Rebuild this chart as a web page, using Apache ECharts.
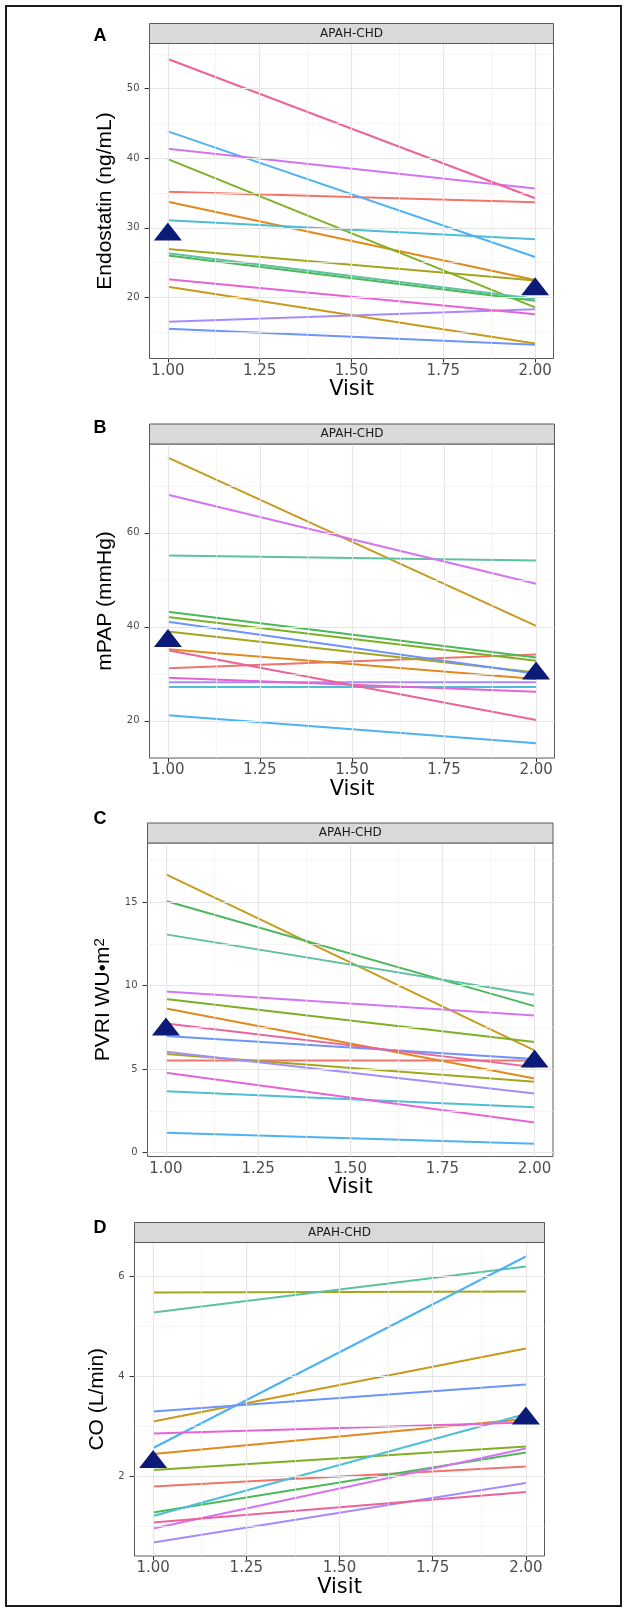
<!DOCTYPE html>
<html><head><meta charset="utf-8">
<script src="https://cdn.jsdelivr.net/npm/echarts@6/dist/echarts.min.js"></script>
<style>html,body{margin:0;padding:0;background:#fff}#c{width:624px;height:1610px}</style>
</head><body><div id="c"></div>
<script>
// ---- data ----
const visits = [1, 2];
const patientColors = ['#F0746C','#E08A1E','#C79A1C','#A3A61C','#7DB023','#4CB85A','#5EC1A0',
                       '#4DBED3','#4DB2F2','#6C94FA','#A68BFA','#D474F3','#E663D3','#EB6399'];
const endostatinV1 = [35.17, 33.73, 21.53, 26.96, 39.87, 26.0, 26.33, 31.09, 43.86, 15.48, 16.49, 41.36, 22.59, 54.27];
const endostatinV2 = [33.68, 22.5, 13.37, 22.4, 18.55, 19.5, 19.8, 28.35, 25.8, 13.18, 18.27, 35.65, 17.55, 34.25];
const mpapV1 = [31.2, 35.25, 76.0, 39.0, 42.1, 43.2, 55.2, 27.2, 21.2, 41.1, 28.2, 68.1, 29.15, 35.0];
const mpapV2 = [34.1, 28.9, 40.2, 30.3, 32.8, 33.5, 54.1, 27.2, 15.25, 30.0, 28.2, 49.15, 26.2, 20.2];
const pvriV1 = [5.52, 8.64, 16.68, 5.9, 9.2, 15.08, 13.08, 3.68, 1.18, 6.98, 6.04, 9.66, 4.78, 7.74];
const pvriV2 = [5.52, 4.44, 6.12, 4.24, 6.62, 8.78, 9.46, 2.72, 0.52, 5.6, 3.54, 8.22, 1.8, 5.12];
const coV1 = [1.79, 2.44, 3.09, 5.67, 2.12, 1.27, 5.27, 1.2, 2.56, 3.29, 0.67, 0.95, 2.85, 1.07];
const coV2 = [2.19, 3.14, 4.55, 5.69, 2.59, 2.47, 6.19, 3.24, 6.39, 3.83, 1.86, 2.55, 3.07, 1.68];
const endostatinMedian = [29.05, 21.15];
const mpapMedian = [37.0, 30.1];
const pvriMedian = [7.37, 5.45];
const coMedian = [2.28, 3.15];
const xTicks = [1, 1.25, 1.5, 1.75, 2];
const xMinor = [1.125, 1.375, 1.625, 1.875];
const endostatinTicks = [20, 30, 40, 50];
const endostatinMinor = [15, 25, 35, 45, 55];
const mpapTicks = [20, 40, 60];
const mpapMinor = [30, 50, 70];
const pvriTicks = [0, 5, 10, 15];
const pvriMinor = [2.5, 7.5, 12.5, 17.5];
const coTicks = [2, 4, 6];
const coMinor = [1, 3, 5];
const facetLabel = 'APAH-CHD';
const panelLetters = ['A', 'B', 'C', 'D'];
const xTitle = 'Visit';

// ---- layout ----
const panels = [
  {grid:{left:149.5, top:43.5, width:404, height:315}, ymin:11.2, ymax:56.5, v1:endostatinV1, v2:endostatinV2, med:endostatinMedian, ticks:endostatinTicks, minor:endostatinMinor, name:'Endostatin (ng/mL)', gap:31, letterY:36},
  {grid:{left:149.5, top:444, width:405, height:314}, ymin:12.1, ymax:78.9, v1:mpapV1, v2:mpapV2, med:mpapMedian, ticks:mpapTicks, minor:mpapMinor, name:'mPAP (mmHg)', gap:30, letterY:428},
  {grid:{left:147.5, top:843, width:405.5, height:313.5}, ymin:-0.24, ymax:18.56, v1:pvriV1, v2:pvriV2, med:pvriMedian, ticks:pvriTicks, minor:pvriMinor, name:'{t|PVRI WU•m}{s|2}', gap:31, letterY:819},
  {grid:{left:134.5, top:1242.5, width:410, height:313.5}, ymin:0.4, ymax:6.67, v1:coV1, v2:coV2, med:coMedian, ticks:coTicks, minor:coMinor, name:'CO (L/min)', gap:24, letterY:1228}
];

const majorStyle = {color:'#e6e6e6', width:1.2, type:'solid'};
const minorStyle = {color:'#f1f1f1', width:0.7, type:'solid'};

const grids = [], xAxes = [], yAxes = [], series = [], graphics = [];
panels.forEach((p, pi) => {
  grids.push(Object.assign({show:true, borderColor:'#5a5a5a', borderWidth:1, backgroundColor:'#fff', containLabel:false}, p.grid));
  xAxes.push({
    type:'value', gridIndex:pi, min:0.95, max:2.05,
    axisLine:{show:false},
    axisTick:{show:true, length:4, lineStyle:{color:'#333', width:1}, customValues:xTicks},
    axisLabel:{customValues:xTicks, formatter:v => v.toFixed(2), fontSize:15, fontFamily:'DejaVu Sans', color:'#4d4d4d', margin:5},
    splitLine:{show:false},
    name:xTitle, nameLocation:'middle', nameGap:20,
    nameTextStyle:{fontSize:21, fontFamily:'DejaVu Sans', color:'#000'}
  });
  yAxes.push({
    type:'value', gridIndex:pi, min:p.ymin, max:p.ymax,
    axisLine:{show:false},
    axisTick:{show:true, length:5, lineStyle:{color:'#333', width:1}, customValues:p.ticks},
    axisLabel:{customValues:p.ticks, fontSize:10, fontFamily:'DejaVu Sans', color:'#4d4d4d', margin:10},
    splitLine:{show:false},
    name:p.name, nameLocation:'middle', nameRotate:90, nameGap:p.gap,
    nameTextStyle:{fontSize:21, fontFamily:'Liberation Sans, Arial, sans-serif', color:'#000',
      rich:{t:{fontSize:21, fontFamily:'Liberation Sans, Arial, sans-serif', color:'#000'},
            s:{fontSize:15, fontFamily:'Liberation Sans, Arial, sans-serif', color:'#000', verticalAlign:'top', padding:[0,0,8,0]}}}
  });
  const gl = [];
  p.ticks.forEach(v => gl.push({yAxis:v, lineStyle:majorStyle}));
  p.minor.forEach(v => gl.push({yAxis:v, lineStyle:minorStyle}));
  xTicks.forEach(v => gl.push({xAxis:v, lineStyle:majorStyle}));
  xMinor.forEach(v => gl.push({xAxis:v, lineStyle:minorStyle}));
  series.push({type:'line', xAxisIndex:pi, yAxisIndex:pi, data:[], z:1, silent:true,
    markLine:{silent:true, symbol:['none','none'], animation:false, label:{show:false}, emphasis:{disabled:true}, lineStyle:{type:'solid'}, data:gl}});
  p.v1.forEach((a, i) => {
    series.push({type:'line', xAxisIndex:pi, yAxisIndex:pi, silent:true, z:3,
      data:visits.map((x, k) => [x, k === 0 ? p.v1[i] : p.v2[i]]),
      showSymbol:false, symbol:'none', lineStyle:{color:patientColors[i], width:2}, itemStyle:{color:patientColors[i]},
      emphasis:{disabled:true}});
  });
  series.push({type:'scatter', xAxisIndex:pi, yAxisIndex:pi, silent:true, z:5,
    data:visits.map((x, k) => [x, p.med[k]]),
    symbol:'triangle', symbolSize:[28, 18], symbolOffset:[0, -3], itemStyle:{color:'#0d1b78', opacity:1}});
  // strip
  graphics.push({type:'rect', shape:{x:p.grid.left, y:p.grid.top - 20, width:p.grid.width, height:20},
    style:{fill:'#d9d9d9', stroke:'#5a5a5a', lineWidth:1}, z:10});
  graphics.push({type:'text', x:p.grid.left + p.grid.width / 2, y:p.grid.top - 10,
    style:{text:facetLabel, fill:'#1a1a1a', font:'12px "DejaVu Sans"', align:'center', verticalAlign:'middle'}, z:11});
  graphics.push({type:'text', x:100, y:p.letterY,
    style:{text:panelLetters[pi], fill:'#000', font:'bold 18px "Liberation Sans", Arial, sans-serif', align:'center', verticalAlign:'middle'}, z:11});
});
graphics.push({type:'rect', shape:{x:6, y:6, width:615, height:1600}, style:{fill:'none', stroke:'#1a1a1a', lineWidth:2}, z:12});

const chart = echarts.init(document.getElementById('c'), null, {renderer:'canvas'});
chart.setOption({
  animation:false, backgroundColor:'#fff',
  grid:grids, xAxis:xAxes, yAxis:yAxes, series:series, graphic:graphics
});
</script></body></html>
